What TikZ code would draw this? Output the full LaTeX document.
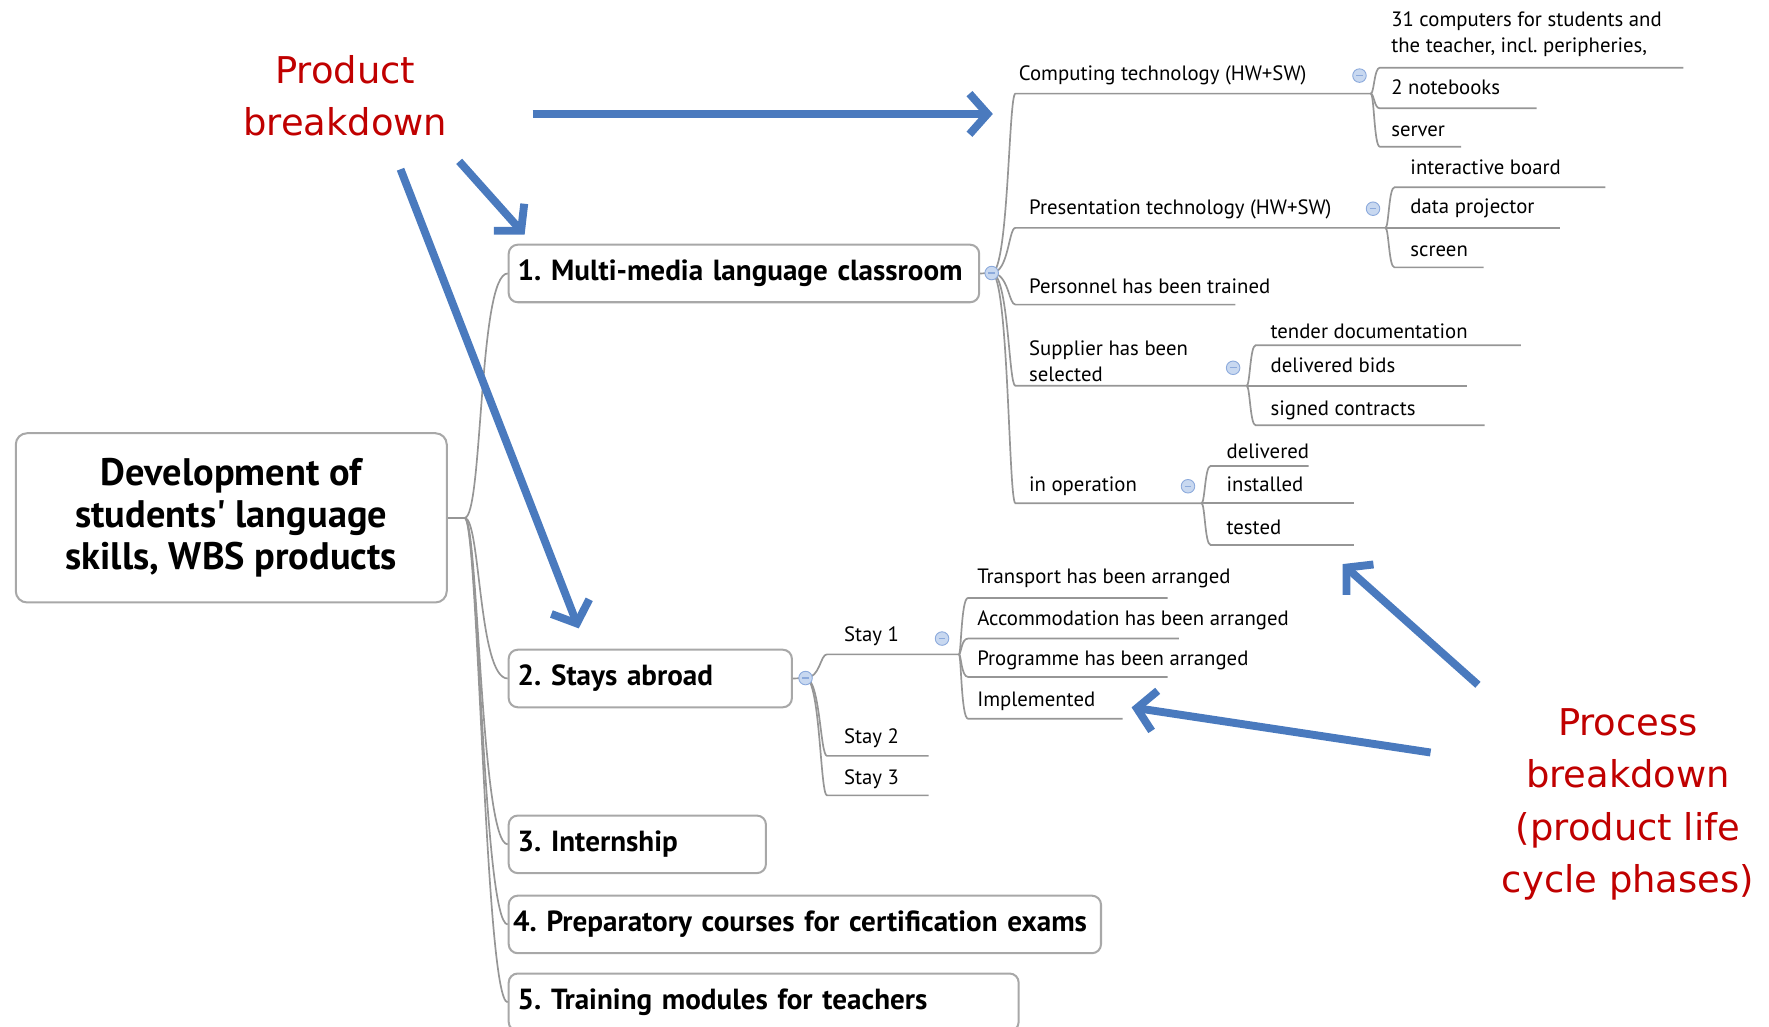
\documentclass[tikz,border=0pt]{standalone}
\usepackage{fontspec}
\setmainfont[Ligatures=TeXOff]{PT Sans}
\newfontfamily\notefont{DejaVu Sans}
\usetikzlibrary{arrows.meta}
\frenchspacing

\definecolor{arrowblue}{RGB}{74,122,190}
\definecolor{notered}{RGB}{192,0,0}
\definecolor{linegray}{RGB}{150,150,150}
\definecolor{boxgray}{RGB}{168,168,168}
\definecolor{knobfill}{RGB}{200,216,240}
\definecolor{knobline}{RGB}{140,170,220}

\tikzset{
	root/.style={draw=boxgray,line width=1.8pt,rounded corners=10pt,minimum width=382pt,minimum height=150pt,align=center,font=\fontsize{34}{37.5}\selectfont\bfseries},
	topic/.style={draw=boxgray,line width=1.8pt,rounded corners=8pt,anchor=north west,text width=#1,align=left,inner xsep=8pt,minimum height=51pt,text height=19pt,text depth=6pt,font=\fontsize{25.8}{30}\selectfont\bfseries},
	leaf/.style={anchor=base west,inner sep=0pt,font=\fontsize{18.4}{23}\selectfont},
	conn/.style={draw=linegray,line width=1.5pt},
	knob/.style={circle,draw=knobline,fill=knobfill,line width=0.8pt,minimum size=12pt,inner sep=0pt,path picture={\draw[knobline,line width=1pt]([xshift=-3pt]path picture bounding box.center)--([xshift=3pt]path picture bounding box.center);}},
	note/.style={text=notered,align=center,font=\notefont\fontsize{32.7}{46.5}\selectfont},
	bigarrow/.style={arrowblue,line width=7pt,-{Straight Barb[length=16pt,width=36pt]}}
}

\begin{document}
\begin{tikzpicture}[x=1pt,y=-1pt]
	\useasboundingbox (0,0) rectangle (1568,910);
	\clip (0,0) rectangle (1568,910);
	% main topic and first level
	\node[root] (root) at (205,459) {Development of\\students' language\\skills, WBS products};
	\node[topic=401pt] (t1) at (450,216) {1. Multi-media language classroom};
	\node[topic=235pt] (t2) at (450,575) {2. Stays abroad};
	\node[topic=212pt] (t3) at (450,722) {3. Internship};
	\node[topic=517pt,inner xsep=4pt] (t4) at (450,793) {4. Preparatory courses for certification exams};
	\node[topic=436pt] (t5) at (450,862) {5. Training modules for teachers};
	\draw[conn] (root.east) -- ++(15,0) coordinate (hub);
	\draw[conn] (hub) .. controls (428,459) and ([xshift=-26pt]t1.west) .. (t1.west);
	\draw[conn] (hub) .. controls (426,459) and ([xshift=-26pt]t2.west) .. (t2.west);
	\draw[conn] (hub) .. controls (424,459) and ([xshift=-24pt]t3.west) .. (t3.west);
	\draw[conn] (hub) .. controls (424,459) and ([xshift=-22pt]t4.west) .. (t4.west);
	\draw[conn] (hub) .. controls (424,459) and ([xshift=-20pt]t5.west) .. (t5.west);
	% 1. classroom
	\draw[conn] (t1.east) -- (879,242) coordinate (k1c);
	\draw[conn] (k1c) .. controls (894,242) and (894,83) .. (900,83) -- (1215,83) coordinate (ct-e);
	\draw[conn] (k1c) .. controls (894,242) and (894,202) .. (900,202) -- (1228,202) coordinate (pt-e);
	\draw[conn] (k1c) .. controls (894,242) and (894,270) .. (900,270) -- (1095,270);
	\draw[conn] (k1c) .. controls (894,242) and (894,342) .. (900,342) -- (1105,342) coordinate (su-e);
	\draw[conn] (k1c) .. controls (894,242) and (894,446) .. (900,446) -- (1065,446) coordinate (op-e);
	\node[leaf] (ct) at (903,71) {Computing technology (HW+SW)};
	\node[leaf] (pt) at (912,190) {Presentation technology (HW+SW)};
	\node[leaf] (pe) at (912,260) {Personnel has been trained};
	\node[leaf,anchor=west,align=left] (su) at (912,320) {Supplier has been\\selected};
	\node[leaf] (op) at (912,436) {in operation};
	% computing technology
	\draw[conn] (ct-e) .. controls (1218,83) and (1218,60) .. (1223,60) -- (1492,60);
	\draw[conn] (ct-e) .. controls (1218,83) and (1218,96) .. (1223,96) -- (1362,96);
	\draw[conn] (ct-e) .. controls (1218,83) and (1218,130) .. (1223,130) -- (1295,130);
	\node[leaf,anchor=west,align=left] (pc) at (1233,30) {31 computers for students and\\the teacher, incl. peripheries,};
	\node[leaf] (nb) at (1233,84) {2 notebooks};
	\node[leaf] (sv) at (1233,121) {server};
	% presentation technology
	\draw[conn] (pt-e) .. controls (1231,202) and (1231,166) .. (1236,166) -- (1423,166);
	\draw[conn] (pt-e) -- (1383,202);
	\draw[conn] (pt-e) .. controls (1231,202) and (1231,237) .. (1236,237) -- (1315,237);
	\node[leaf] (ib) at (1250,155) {interactive board};
	\node[leaf] (dp) at (1250,189) {data projector};
	\node[leaf] (sc) at (1250,227) {screen};
	% supplier
	\draw[conn] (su-e) .. controls (1108,342) and (1108,306) .. (1113,306) -- (1348,306);
	\draw[conn] (su-e) -- (1300,342);
	\draw[conn] (su-e) .. controls (1108,342) and (1108,377) .. (1113,377) -- (1316,377);
	\node[leaf] (td) at (1126,300) {tender documentation};
	\node[leaf] (db) at (1126,330) {delivered bids};
	\node[leaf] (sg) at (1126,368) {signed contracts};
	% in operation
	\draw[conn] (op-e) .. controls (1068,446) and (1068,413) .. (1073,413) -- (1160,413);
	\draw[conn] (op-e) -- (1200,446);
	\draw[conn] (op-e) .. controls (1068,446) and (1068,483) .. (1073,483) -- (1200,483);
	\node[leaf] (dl) at (1087,406) {delivered};
	\node[leaf] (in) at (1087,436) {installed};
	\node[leaf] (ts) at (1087,474) {tested};
	% 2. stays abroad
	\draw[conn] (t2.east) -- (714,601) coordinate (k2c);
	\draw[conn] (k2c) .. controls (727,601) and (727,580) .. (733,580) -- (850,580) coordinate (s1-e);
	\draw[conn] (k2c) .. controls (727,601) and (727,670) .. (733,670) -- (823,670);
	\draw[conn] (k2c) .. controls (727,601) and (727,705) .. (733,705) -- (823,705);
	\node[leaf] (s1) at (748,569) {Stay 1};
	\node[leaf] (s2) at (748,659) {Stay 2};
	\node[leaf] (s3) at (748,695) {Stay 3};
	\draw[conn] (s1-e) .. controls (852,580) and (852,530) .. (858,530) -- (1035,530);
	\draw[conn] (s1-e) .. controls (852,580) and (852,566) .. (858,566) -- (1045,566);
	\draw[conn] (s1-e) .. controls (852,580) and (852,600) .. (858,600) -- (1035,600);
	\draw[conn] (s1-e) .. controls (852,580) and (852,637) .. (858,637) -- (995,637);
	\node[leaf] (tr) at (866,517) {Transport has been arranged};
	\node[leaf] (ac) at (866,554) {Accommodation has been arranged};
	\node[leaf] (pg) at (866,590) {Programme has been arranged};
	\node[leaf] (im) at (866,626) {Implemented};
	% collapse knobs
	\node[knob] (k1) at (k1c) {};
	\node[knob] (k2) at (k2c) {};
	\node[knob] (kct) at (1205,67) {};
	\node[knob] (kpt) at (1217,185) {};
	\node[knob] (ksu) at (1093,326) {};
	\node[knob] (kop) at (1053,431) {};
	\node[knob] (ks1) at (835,566) {};
	% breakdown notes and arrows
	\node[note] (prod) at (306,85) {Product\\breakdown};
	\node[note] (proc) at (1443,713) {Process\\breakdown\\(product life\\cycle phases)};
	\coordinate (pa) at (472,101);
	\coordinate (pb) at (407,143);
	\coordinate (pc0) at (355,150);
	\coordinate (qa) at (1310,607);
	\coordinate (qb) at (1268,667);
	\coordinate (spine1) at (880,101);
	\coordinate (t1top) at (465,208);
	\coordinate (t2top) at (513,557);
	\coordinate (optip) at (1190,500);
	\coordinate (imtip) at (1003,627);
	\draw[bigarrow] (pa) -- (spine1);
	\draw[bigarrow] (pb) -- (t1top);
	\draw[bigarrow] (pc0) -- (t2top);
	\draw[bigarrow] (qa) -- (optip);
	\draw[bigarrow] (qb) -- (imtip);
\end{tikzpicture}
\end{document}
